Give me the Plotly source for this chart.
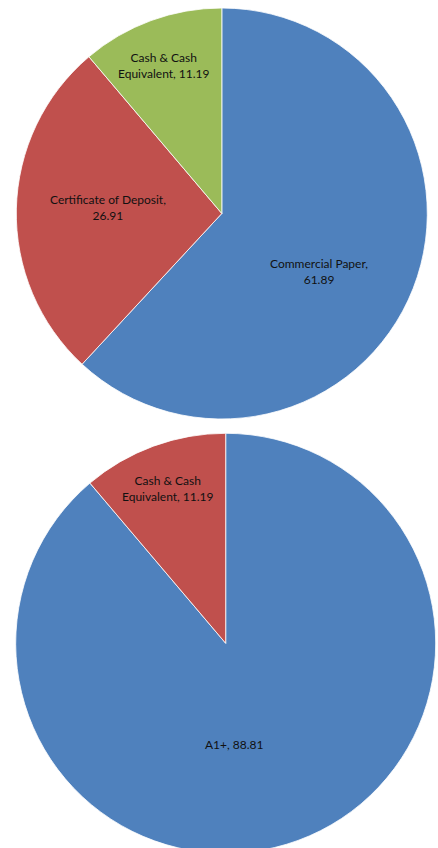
import plotly.graph_objects as go

# Portfolio composition (%)
asset_labels = ["Commercial Paper", "Certificate of Deposit", "Cash & Cash Equivalent"]
asset_values = [61.89, 26.91, 11.19]

# Rating profile (%)
rating_labels = ["A1+", "Cash & Cash Equivalent"]
rating_values = [88.81, 11.19]

BLUE, RED, GREEN = "#4F81BD", "#C0504D", "#9BBB59"

W, H = 438, 854

# pie centres / radii in pixels (y from the top)
TOP_PIE = (221.8, 213.5, 205.5)
BOTTOM_PIE = (225.7, 643.3, 210.0)

# data-label anchors, pixel offsets from each pie centre, and line layout
TOP_LABEL_POS = [(97.2, 58.2), (-114.3, -6.3), (-57.8, -147.5)]
TOP_LABEL_BREAK = [", ", ", ", "wrap"]
BOTTOM_LABEL_POS = [(9.0, 101.0), (-57.4, -155.3)]
BOTTOM_LABEL_BREAK = ["inline", "wrap"]


def domain(cx, cy, r):
    """Pie domain from a pixel centre/radius (y measured from the top)."""
    return dict(
        x=[(cx - r) / W, (cx + r) / W],
        y=[max(0.0, (H - (cy + r)) / H), min(1.0, (H - (cy - r)) / H)],
    )


def label_text(label, value, mode):
    if mode == "inline":
        return f"{label}, {value:.2f}"
    if mode == "wrap":
        head, tail = label.rsplit(" ", 1)
        return f"{head}<br>{tail}, {value:.2f}"
    return f"{label},<br>{value:.2f}"


font = dict(family="Lato, Open Sans, sans-serif", size=12, color="#111111")

fig = go.Figure()
fig.add_trace(go.Pie(
    labels=asset_labels, values=asset_values, textinfo="none",
    sort=False, direction="clockwise", rotation=0,
    marker=dict(colors=[BLUE, RED, GREEN], line=dict(color="white", width=0.8)),
    hoverinfo="label+value", domain=domain(*TOP_PIE), showlegend=False,
))
fig.add_trace(go.Pie(
    labels=rating_labels, values=rating_values, textinfo="none",
    sort=False, direction="clockwise", rotation=0,
    marker=dict(colors=[BLUE, RED], line=dict(color="white", width=0.8)),
    hoverinfo="label+value", domain=domain(*BOTTOM_PIE), showlegend=False,
))

annotations = []
for (cx, cy, _), labels, values, offsets, modes in [
    (TOP_PIE, asset_labels, asset_values, TOP_LABEL_POS, TOP_LABEL_BREAK),
    (BOTTOM_PIE, rating_labels, rating_values, BOTTOM_LABEL_POS, BOTTOM_LABEL_BREAK),
]:
    for lab, val, (dx, dy), mode in zip(labels, values, offsets, modes):
        annotations.append(dict(
            text=label_text(lab, val, mode),
            x=(cx + dx) / W, y=(H - (cy + dy)) / H,
            xref="paper", yref="paper", xanchor="center", yanchor="middle",
            showarrow=False, font=font, align="center",
        ))

fig.update_layout(
    width=W, height=H,
    margin=dict(l=0, r=0, t=0, b=0),
    paper_bgcolor="white", plot_bgcolor="white",
    annotations=annotations,
)

fig.write_html(
    "out.html",
    config={"displayModeBar": False},
    post_script="document.documentElement.style.overflow='hidden';document.body.style.overflow='hidden';document.body.style.margin='0';",
)
